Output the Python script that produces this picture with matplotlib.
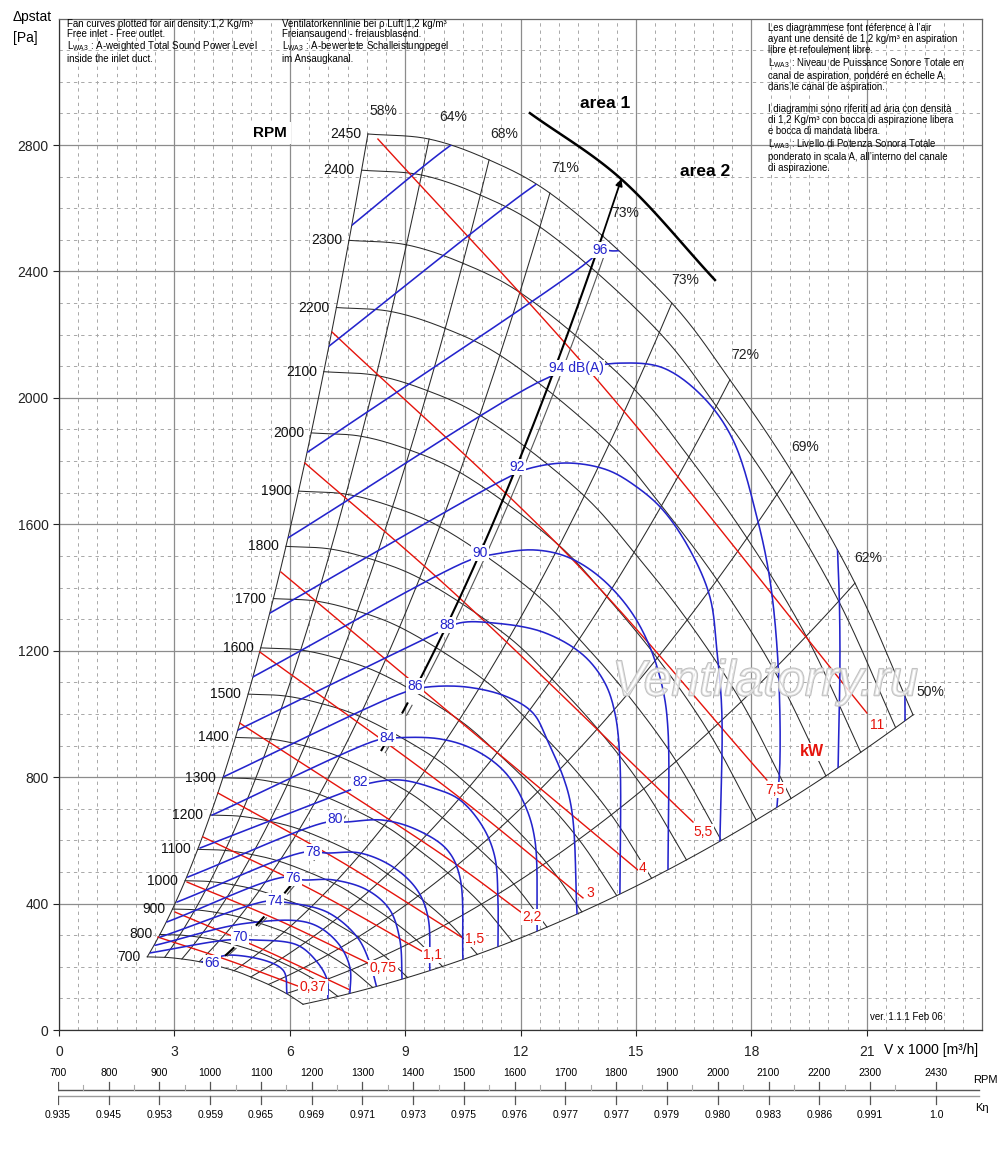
import numpy as np
import matplotlib
matplotlib.use("Agg")
import matplotlib.pyplot as plt
import matplotlib.patheffects as pe
from matplotlib.path import Path
from matplotlib.ticker import MultipleLocator

plt.rcParams['font.family'] = ['Liberation Sans', 'DejaVu Sans']
plt.rcParams['mathtext.default'] = 'regular'
plt.rcParams['lines.scale_dashes'] = False

# fan curve at the top speed, read where the efficiency lines cross it
base_rpm = 2450
base_v = [8.03, 9.62, 11.18, 12.76, 15.93, 17.44, 19.05, 20.69, 22.2]
base_p = [2835, 2819, 2753, 2648, 2300, 2057, 1766, 1414, 997]
rpm_values = [700, 800, 900, 1000, 1100, 1200, 1300, 1400, 1500, 1600, 1700,
              1800, 1900, 2000, 2100, 2200, 2300, 2400, 2450]

# efficiency lines (one per base point) and their labels
eff_labels = ["58%", "64%", "68%", "71%", "73%", "72%", "69%", "62%", "50%"]
eff_label_v = [8.42, 10.24, 11.57, 13.15, 16.27, 17.83, 19.39, 21.03, 22.64]
eff_label_p = [2908, 2889, 2835, 2727, 2373, 2136, 1845, 1493, 1069]

# area 1 / area 2 divider (73 %) and the area line
divider_k = 12.6
divider_k2 = 12.2
divider_top_v = 14.62
divider_label = "73%"
divider_label_v, divider_label_p = 14.71, 2585
area_v = [12.24, 14.58, 17.05]
area_p = [2901, 2696, 2373]

# absorbed power lines [kW]
kw_labels = ["0,37", "", "0,75", "1,1", "1,5", "2,2", "3", "4", "5,5", "7,5", "11"]
kw_line_v = [[2.57, 4.39, 6.21], [3.02, 5.28, 7.56], [3.33, 5.69, 8.03],
             [3.74, 6.63, 9.51], [4.13, 7.30, 10.50], [4.70, 10.16, 12.04],
             [5.22, 10.16, 13.62], [5.77, 10.16, 15.05], [6.39, 10.16, 16.48],
             [7.10, 13.28, 18.40], [8.29, 14.06, 21.00]]
kw_line_p = [[294, 221, 139], [373, 256, 127], [468, 348, 212],
             [611, 440, 244], [750, 535, 291], [971, 538, 370],
             [1196, 759, 418], [1449, 1003, 506], [1794, 1395, 658],
             [2208, 1497, 791], [2819, 2047, 1003]]
kw_label_v = [6.60, None, 8.42, 9.72, 10.81, 12.30, 13.80, 15.18, 16.74, 18.61, 21.26]
kw_label_p = [136, None, 196, 237, 288, 358, 433, 513, 626, 759, 965]

# sound power level lines LWA3 [dB(A)]
db_labels = ["", "", "96", "94 dB(A)", "92", "90", "88", "86", "84", "82",
             "80", "78", "76", "74", "", "70", "66"]
db_curve_v = [
    [7.62, 9.98, 10.94],
    [6.99, 12.30, 13.02, 16.66, 20.56, 21.86, 21.99, 21.99],
    [6.47, 13.80, 14.06, 14.40, 16.66, 19.00, 20.04, 20.25, 20.30, 20.25],
    [5.95, 12.69, 13.46, 14.58, 15.70, 16.74, 17.52, 18.14, 18.48, 18.69, 18.74, 18.66],
    [5.48, 11.65, 12.20, 13.21, 14.25, 15.02, 15.70, 16.40, 16.92, 17.10, 17.23, 17.18],
    [5.04, 10.68, 11.20, 12.32, 13.21, 14.06, 14.84, 15.36, 15.70, 15.83, 15.83],
    [4.65, 9.83, 10.42, 11.28, 12.58, 13.62, 14.19, 14.45, 14.58, 14.58],
    [4.26, 8.99, 9.57, 10.61, 11.65, 12.32, 12.69, 13.28, 13.47],
    [3.98, 8.29, 8.68, 9.90, 10.81, 11.59, 12.11, 12.37, 12.43],
    [3.67, 7.56, 8.08, 8.86, 9.72, 10.42, 11.02, 11.33, 11.41, 11.41],
    [3.35, 6.97, 7.43, 8.42, 9.31, 10.09, 10.42, 10.50],
    [3.07, 6.39, 6.97, 7.82, 8.68, 9.31, 9.59, 9.64],
    [2.81, 5.87, 6.34, 7.12, 8.01, 8.60, 8.86, 8.92],
    [2.63, 5.41, 5.82, 6.97, 7.75, 8.08, 8.27],
    [2.50, 4.89, 6.52, 7.23, 7.56, 7.56],
    [2.37, 4.39, 5.04, 6.19, 6.71, 6.97, 6.99],
    [3.70, 4.50, 5.82, 5.93],
]
db_curve_p = [
    [2547, 2781, 2863],
    [2161, 2667, 2721, 2784, 2310, 1677, 1028, 968],
    [1829, 2436, 2468, 2465, 2468, 2183, 1803, 1471, 1202, 819],
    [1557, 2063, 2090, 2110, 2095, 2003, 1867, 1623, 1424, 1161, 854, 702],
    [1319, 1747, 1776, 1794, 1772, 1718, 1645, 1519, 1370, 1202, 1003, 595],
    [1117, 1487, 1503, 1519, 1497, 1433, 1329, 1212, 1076, 949, 500],
    [949, 1256, 1288, 1288, 1259, 1187, 1098, 1003, 854, 433],
    [800, 1069, 1085, 1085, 1054, 1003, 918, 728, 358],
    [680, 918, 924, 921, 886, 816, 712, 601, 307],
    [576, 759, 781, 791, 766, 728, 642, 547, 411, 259],
    [484, 658, 658, 664, 633, 570, 484, 221],
    [405, 563, 560, 560, 516, 443, 358, 184],
    [342, 484, 475, 475, 443, 380, 285, 152],
    [294, 408, 405, 373, 294, 212, 130],
    [268, 338, 338, 278, 199, 108],
    [244, 285, 285, 269, 215, 158, 95],
    [215, 237, 190, 112],
]
db_label_v = [None, None, 14.06, 13.46, 11.91, 10.94, 10.09, 9.25, 8.53, 7.82,
              7.17, 6.60, 6.08, 5.61, None, 4.70, 3.98]
db_label_p = [None, None, 2468, 2095, 1781, 1509, 1281, 1088, 924, 785,
              668, 563, 481, 408, None, 294, 212]

# speed / efficiency-correction scale under the chart
scale_rpm = [700, 800, 900, 1000, 1100, 1200, 1300, 1400, 1500, 1600, 1700,
             1800, 1900, 2000, 2100, 2200, 2300, 2430]
scale_k_eta = ["0.935", "0.945", "0.953", "0.959", "0.965", "0.969", "0.971",
               "0.973", "0.975", "0.976", "0.977", "0.977", "0.979", "0.980",
               "0.983", "0.986", "0.991", "1.0"]
scale_minor = [750, 850, 950, 1050, 1150, 1250, 1350, 1450, 1550, 1650, 1750,
               1850, 1950, 2050, 2150, 2250, 2350]

BLACK = '#2a2a2a'
RED = '#e5140c'
BLUE = '#2424cc'


def smooth(xs, ys, n=14, alpha=0.5):
    """centripetal Catmull-Rom through the read points"""
    sx, sy = 24.0, 3200.0
    pts = np.column_stack([np.asarray(xs, float) / sx, np.asarray(ys, float) / sy])
    if len(pts) < 3:
        return pts[:, 0] * sx, pts[:, 1] * sy
    ext = np.vstack([2 * pts[0] - pts[1], pts, 2 * pts[-1] - pts[-2]])
    out = []
    for i in range(1, len(ext) - 2):
        P0, P1, P2, P3 = ext[i - 1], ext[i], ext[i + 1], ext[i + 2]
        t0 = 0.0
        t1 = t0 + max(np.linalg.norm(P1 - P0), 1e-6) ** alpha
        t2 = t1 + max(np.linalg.norm(P2 - P1), 1e-6) ** alpha
        t3 = t2 + max(np.linalg.norm(P3 - P2), 1e-6) ** alpha
        t = np.linspace(t1, t2, n, endpoint=False)[:, None]
        A1 = (t1 - t) / (t1 - t0) * P0 + (t - t0) / (t1 - t0) * P1
        A2 = (t2 - t) / (t2 - t1) * P1 + (t - t1) / (t2 - t1) * P2
        A3 = (t3 - t) / (t3 - t2) * P2 + (t - t2) / (t3 - t2) * P3
        B1 = (t2 - t) / (t2 - t0) * A1 + (t - t0) / (t2 - t0) * A2
        B2 = (t3 - t) / (t3 - t1) * A2 + (t - t1) / (t3 - t1) * A3
        out.append((t2 - t) / (t2 - t1) * B1 + (t - t1) / (t2 - t1) * B2)
    out.append(pts[-1:])
    res = np.vstack(out)
    return res[:, 0] * sx, res[:, 1] * sy


fig = plt.figure(figsize=(10, 11.6), dpi=100)
ax = fig.add_axes([0.059, 1 - 1030 / 1160, 0.9233, 3200 / 3.164 / 1160])
ax.set_xlim(0, 24)
ax.set_ylim(0, 3200)
ax.set_xticks(np.arange(0, 22, 3))
ax.set_yticks(np.arange(0, 3000, 400))
ax.xaxis.set_minor_locator(MultipleLocator(0.5))
ax.yaxis.set_minor_locator(MultipleLocator(100))
ax.grid(which='major', color='#8c8c8c', lw=0.9)
ax.grid(which='minor', color='#a8a8a8', lw=0.7, ls=(0, (2.4, 2.8)))
ax.set_axisbelow(True)
ax.tick_params(which='major', length=4, width=0.8, labelsize=10, colors='#222')
ax.tick_params(axis='x', which='major', pad=7)
ax.tick_params(which='minor', length=0)
for s in ax.spines.values():
    s.set_color('#666')
    s.set_linewidth(0.9)
ax.spines['left'].set_color('#333')
ax.spines['bottom'].set_color('#333')

# speed curves (fan laws: V ~ n, p ~ n^2)
bv, bp = smooth(base_v, base_p, 30)
r0 = rpm_values[0] / base_rpm
for n in rpm_values:
    r = n / base_rpm
    ax.plot(bv * r, bp * r ** 2, color=BLACK, lw=0.75, zorder=2)
    ax.annotate(str(n), (base_v[0] * r, base_p[0] * r ** 2), xytext=(-7, 0),
                textcoords='offset pixels', ha='right', va='center',
                fontsize=10, color='#111', zorder=6)

# region of the chart used to clip the sound lines
rr = np.linspace(1, r0, 80)
region = np.vstack([np.column_stack([bv, bp]),
                    np.column_stack([bv[-1] * rr, bp[-1] * rr ** 2]),
                    np.column_stack([bv[::-1] * r0, bp[::-1] * r0 ** 2]),
                    np.column_stack([bv[0] * rr[::-1], bp[0] * rr[::-1] ** 2])])
clip = Path(np.vstack([region, region[:1]]), closed=True)

# efficiency lines (system parabolas)
rline = np.linspace(r0, 1, 80)
for v0, p0, lab, lv, lp in zip(base_v, base_p, eff_labels, eff_label_v, eff_label_p):
    ax.plot(v0 * rline, p0 * rline ** 2, color=BLACK, lw=0.75, zorder=2)
    ax.text(lv, lp, lab, fontsize=10, color='#222', ha='center', va='center')

# divider between area 1 and area 2 (double line)
for k, lw, col in [(divider_k, 1.5, 'black'), (divider_k2, 0.8, '#555')]:
    diff = bp - k * bv ** 2
    i = np.where(np.diff(np.sign(diff)) != 0)[0][0]
    f = diff[i] / (diff[i] - diff[i + 1])
    vd = bv[i] + f * (bv[i + 1] - bv[i])
    up = np.linspace(0.66, 1, 60)
    lo = np.linspace(r0 + 0.02, 0.66, 60)
    ax.plot(vd * up, k * (vd * up) ** 2, color=col, lw=lw, zorder=4)
    ax.plot(vd * lo, k * (vd * lo) ** 2, color=col, lw=lw, zorder=4, ls=(0, (9, 22)))
    if k == divider_k:
        vtop = vd
ax.annotate('', xy=(divider_top_v, divider_k * divider_top_v ** 2),
            xytext=(vtop, divider_k * vtop ** 2),
            arrowprops=dict(arrowstyle='-|>', color='black', lw=1.3,
                            mutation_scale=10, shrinkA=0, shrinkB=0), zorder=5)
ax.text(divider_label_v, divider_label_p, divider_label, fontsize=10, color='#222',
        ha='center', va='center')
av, ap = smooth(area_v, area_p, 30)
ax.plot(av, ap, color='black', lw=1.8, zorder=4)
ax.text(14.19, 2933, "area 1", fontsize=12.5, fontweight='bold', ha='center', va='center')
ax.text(16.79, 2715, "area 2", fontsize=12.5, fontweight='bold', ha='center', va='center')
ax.text(5.48, 2838, "RPM", fontsize=11, fontweight='bold', ha='center', va='center',
        bbox=dict(boxstyle='square,pad=0.25', fc='white', ec='none'), zorder=6)

# power lines
lbox = dict(boxstyle='square,pad=0.08', fc='white', ec='none')
for lv, lp, lab, tv, tp in zip(kw_line_v, kw_line_p, kw_labels, kw_label_v, kw_label_p):
    xs, ys = smooth(lv, lp, 20)
    ax.plot(xs, ys, color=RED, lw=1.0, zorder=3)
    if lab:
        ax.text(tv, tp, lab, fontsize=10, color=RED, ha='center', va='center',
                bbox=lbox, zorder=6)
ax.text(19.57, 880, "kW", fontsize=11.5, fontweight='bold', color=RED,
        ha='center', va='center', bbox=lbox, zorder=6)

# sound lines
for cv, cp, lab, tv, tp in zip(db_curve_v, db_curve_p, db_labels, db_label_v, db_label_p):
    xs, ys = smooth(cv, cp, 16)
    ln, = ax.plot(xs, ys, color=BLUE, lw=1.15, zorder=3)
    ln.set_clip_path(clip, ax.transData)
    if lab:
        ax.text(tv, tp, lab, fontsize=10, color=BLUE, ha='center', va='center',
                bbox=lbox, zorder=6)

# watermark
ax.text(18.35, 1100, "Ventilatorry.ru", fontsize=36, style='italic', ha='center',
        va='center', color=(1, 1, 1, 0.5), zorder=7,
        path_effects=[pe.withStroke(linewidth=1.4, foreground='#c0c0c0')])

# texts around the chart
fig.text(13 / 1000, 1 - 17 / 1160, "Δpstat", fontsize=10, va='center')
fig.text(13 / 1000, 1 - 38 / 1160, "[Pa]", fontsize=10, va='center')
fig.text(884 / 1000, 1 - 1050 / 1160, "V x 1000 [m³/h]", fontsize=10, va='center')
fig.text(870 / 1000, 1 - 1017 / 1160, "ver. 1.1.1 Feb 06", fontsize=7, va='center')

head_left = ("Fan curves plotted for air density:1,2 Kg/m³\n"
             "Free inlet - Free outlet.\n"
             "L$_{WA3}$ : A-weighted Total Sound Power Level\n"
             "inside the inlet duct.")
head_mid = ("Ventilatorkennlinie bei ρ Luft 1,2 kg/m³\n"
            "Freiansaugend - freiausblasend.\n"
            "L$_{WA3}$ : A-bewertete Schalleistungpegel\n"
            "im Ansaugkanal.")
head_right = ("Les diagrammese font réference à l’air\n"
              "ayant une densité de 1,2 kg/m³ en aspiration\n"
              "libre et refoulement libre.\n"
              "L$_{WA3}$ : Niveau de Puissance Sonore Totale en\n"
              "canal de aspiration, pondéré en échelle A,\n"
              "dans le canal de aspiration.\n"
              "\n"
              "I diagrammi sono riferiti ad aria con densità\n"
              "di 1,2 Kg/m³ con bocca di aspirazione libera\n"
              "e bocca di mandata libera.\n"
              "L$_{WA3}$ : Livello di Potenza Sonora Totale\n"
              "ponderato in scala A, all’interno del canale\n"
              "di aspirazione.")
fig.text(67 / 1000, 1 - 19 / 1160, head_left, fontsize=7, va='top', linespacing=1.02)
fig.text(282 / 1000, 1 - 19 / 1160, head_mid, fontsize=7, va='top', linespacing=1.02)
fig.text(768 / 1000, 1 - 23 / 1160, head_right, fontsize=6.9, va='top', linespacing=1.12)

# rpm and K-eta scale
sc = fig.add_axes([58 / 1000, 1 - 1125 / 1160, 925 / 1000, 65 / 1160])
sc.set_xlim(700, 700 + 925 / 0.5075)
sc.set_ylim(1125, 1060)
sc.axis('off')
sc.plot([700, 2515], [1090.5, 1090.5], color='#555', lw=1.0)
sc.plot([700, 2515], [1096, 1096], color='#999', lw=1.0)
for rpm, ke in zip(scale_rpm, scale_k_eta):
    sc.plot([rpm, rpm], [1082, 1090.5], color='#555', lw=0.9)
    sc.plot([rpm, rpm], [1096, 1104], color='#555', lw=0.9)
    sc.text(rpm, 1073, str(rpm), fontsize=7.5, ha='center', va='center')
    sc.text(rpm, 1115, ke, fontsize=7.5, ha='center', va='center')
for rpm in scale_minor:
    sc.plot([rpm, rpm], [1085, 1090.5], color='#aaa', lw=0.8)
sc.text(700 + 927 / 0.5075, 1080, "RPM", fontsize=8, ha='center', va='center')
sc.text(700 + 924 / 0.5075, 1108, "Kη", fontsize=8, ha='center', va='center')

fig.savefig("out.png", dpi=100)
